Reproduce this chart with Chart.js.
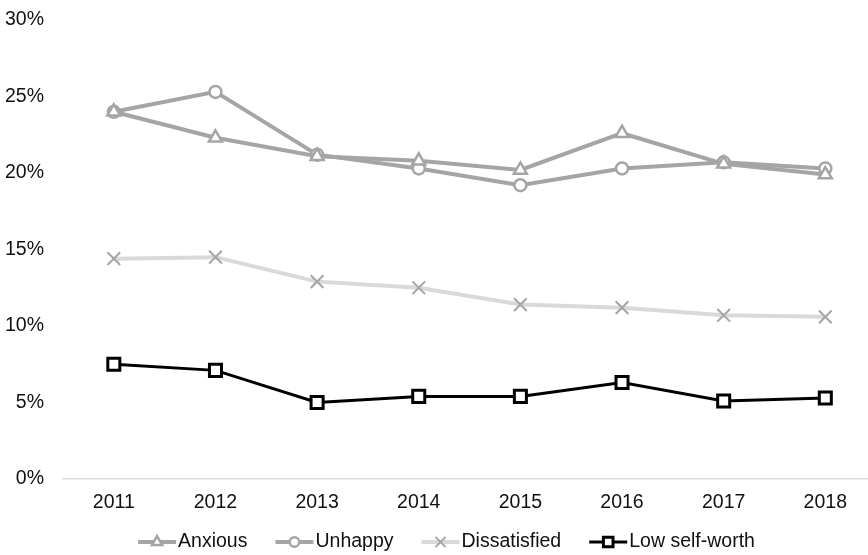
<!DOCTYPE html>
<html>
<head>
<meta charset="utf-8">
<script src="https://cdn.jsdelivr.net/npm/chart.js@4"></script>
<style>
  html, body { margin: 0; padding: 0; background: #fff; overflow: hidden; }
</style>
</head>
<body>
<canvas id="chart" width="868" height="555"></canvas>
<script>
// data (values in %)
const categories = ['2011', '2012', '2013', '2014', '2015', '2016', '2017', '2018'];
const anxious = [24.0, 22.3, 21.1, 20.8, 20.2, 22.6, 20.6, 19.9];
const unhappy = [24.0, 25.3, 21.2, 20.3, 19.2, 20.3, 20.7, 20.3];
const dissatisfied = [14.4, 14.5, 12.9, 12.5, 11.4, 11.2, 10.7, 10.6];
const lowSelfWorth = [7.5, 7.1, 5.0, 5.4, 5.4, 6.3, 5.1, 5.3];
const yTickStep = 5;
const yMax = 30;

const FONT = '"Liberation Sans", Arial, sans-serif';
const FONT_SIZE = 19.5;
const TEXT = '#111';

function toPoints(arr) {
  return arr.map((v, i) => ({x: i, y: v}));
}

// legend: short line with the marker in the middle, like the original
const lineLegend = {
  id: 'lineLegend',
  afterDraw(chart) {
    const ctx = chart.ctx;
    const sets = chart.data.datasets;
    const lineLen = 38, gap = 2, pad = 28, y = 542;
    ctx.save();
    ctx.font = FONT_SIZE + 'px ' + FONT;
    const widths = sets.map(d => lineLen + gap + ctx.measureText(d.label).width);
    const total = widths.reduce((a, b) => a + b, 0) + pad * (sets.length - 1);
    let x = 446.5 - total / 2;
    sets.forEach((d, i) => {
      ctx.strokeStyle = d.borderColor;
      ctx.lineWidth = d.borderWidth;
      ctx.beginPath();
      ctx.moveTo(x, y);
      ctx.lineTo(x + lineLen, y);
      ctx.stroke();
      if (Chart.helpers && Chart.helpers.drawPoint) {
        ctx.fillStyle = d.pointBackgroundColor;
        ctx.strokeStyle = d.pointBorderColor;
        ctx.lineWidth = d.pointBorderWidth;
        Chart.helpers.drawPoint(ctx, {
          pointStyle: d.pointStyle, radius: d.pointRadius * 0.8,
          rotation: 0, borderWidth: d.pointBorderWidth
        }, x + lineLen / 2, y);
      }
      ctx.fillStyle = TEXT;
      ctx.textAlign = 'left';
      ctx.textBaseline = 'middle';
      ctx.fillText(d.label, x + lineLen + gap, y);
      x += widths[i] + pad;
    });
    ctx.restore();
  }
};

const ctx = document.getElementById('chart').getContext('2d');
new Chart(ctx, {
  type: 'line',
  data: {
    datasets: [
      {
        label: 'Anxious', data: toPoints(anxious),
        borderColor: '#a5a5a5', borderWidth: 4,
        pointStyle: 'triangle', pointRadius: 7.5, pointBorderWidth: 2.5,
        pointBorderColor: '#a5a5a5', pointBackgroundColor: '#fff'
      },
      {
        label: 'Unhappy', data: toPoints(unhappy),
        borderColor: '#a5a5a5', borderWidth: 4,
        pointStyle: 'circle', pointRadius: 6, pointBorderWidth: 2.5,
        pointBorderColor: '#a5a5a5', pointBackgroundColor: '#fff'
      },
      {
        label: 'Dissatisfied', data: toPoints(dissatisfied),
        borderColor: '#d9d9d9', borderWidth: 4,
        pointStyle: 'crossRot', pointRadius: 9, pointBorderWidth: 2,
        pointBorderColor: '#a5a5a5', pointBackgroundColor: '#a5a5a5'
      },
      {
        label: 'Low self-worth', data: toPoints(lowSelfWorth),
        borderColor: '#000', borderWidth: 3,
        pointStyle: 'rect', pointRadius: 8.5, pointBorderWidth: 3,
        pointBorderColor: '#000', pointBackgroundColor: '#fff'
      }
    ]
  },
  options: {
    responsive: false,
    devicePixelRatio: 1,
    animation: false,
    layout: {autoPadding: false, padding: {top: 20, left: 0, right: 0, bottom: 40}},
    elements: {line: {tension: 0}},
    plugins: {legend: {display: false}, tooltip: {enabled: false}},
    scales: {
      x: {
        type: 'linear',
        min: -0.5,
        max: 7.42,
        grid: {display: false, drawTicks: false},
        border: {display: true, color: '#d9d9d9', width: 1.5},
        afterBuildTicks: s => { s.ticks = categories.map((c, i) => ({value: i})); },
        afterFit: s => { s.height = 36; },
        ticks: {
          padding: 12, color: TEXT, font: {family: FONT, size: FONT_SIZE},
          maxRotation: 0, autoSkip: false,
          callback: v => categories[v]
        }
      },
      y: {
        min: 0,
        max: yMax,
        grid: {display: false, drawTicks: false},
        border: {display: false},
        afterFit: s => { s.width = 63; s.paddingTop = 0; s.paddingBottom = 0; },
        ticks: {
          stepSize: yTickStep, padding: 19, color: TEXT,
          font: {family: FONT, size: FONT_SIZE},
          callback: v => v + '%'
        }
      }
    }
  },
  plugins: [lineLegend]
});
</script>
</body>
</html>
